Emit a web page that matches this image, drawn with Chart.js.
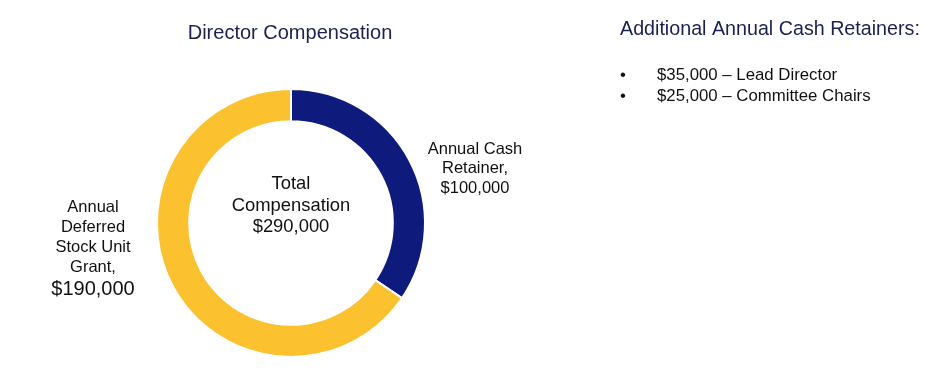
<!DOCTYPE html>
<html>
<head>
<meta charset="utf-8">
<script src="https://cdn.jsdelivr.net/npm/chart.js@4.4.1/dist/chart.umd.min.js"></script>
<style>
  html, body { margin: 0; padding: 0; background: #fff; }
  #wrap { width: 936px; height: 370px; position: relative; }
</style>
</head>
<body>
<div id="wrap"><canvas id="graf_comp"></canvas></div>
<script>
// dados
const categorias = ['Annual Cash Retainer', 'Annual Deferred Stock Unit Grant']
const valores = [100000, 190000]
const rotulos_linhas = [['Annual Cash', 'Retainer,'], ['Annual', 'Deferred', 'Stock Unit', 'Grant,']]
const cores = ['#0f1a7d', '#fbc12f']
const titulo = 'Director Compensation'
const retentores_titulo = 'Additional Annual Cash Retainers:'
const retentores_valores = [35000, 25000]
const retentores_cargos = ['Lead Director', 'Committee Chairs']

const fmt = v => '$' + v.toLocaleString('en-US')
const FONTE = '"Liberation Sans", Arial, sans-serif'

const textos = {
  id: 'textos',
  afterDraw(chart) {
    const ctx = chart.ctx
    const arc = chart.getDatasetMeta(0).data[0]
    const cx = arc.x, cy = arc.y, r = arc.outerRadius
    ctx.save()
    ctx.textAlign = 'center'
    ctx.textBaseline = 'middle'

    // titulo
    ctx.fillStyle = '#1b2150'
    ctx.font = '20px ' + FONTE
    ctx.fillText(titulo, 290, 33)

    // centro
    const total = valores.reduce((a, b) => a + b, 0)
    ctx.fillStyle = '#111'
    ctx.font = '18.4px ' + FONTE
    ;['Total', 'Compensation', fmt(total)].forEach((t, i) => {
      ctx.fillText(t, cx, cy - 39 + i * 21.5)
    })

    // rotulo direita (cash retainer)
    ctx.font = '16.5px ' + FONTE
    const dir = rotulos_linhas[0].concat([fmt(valores[0])])
    dir.forEach((t, i) => ctx.fillText(t, cx + r + 50, cy - 74 + i * 19.7))

    // rotulo esquerda (stock unit)
    const esq = rotulos_linhas[1]
    esq.forEach((t, i) => ctx.fillText(t, cx - r - 64, cy - 16 + i * 20))
    ctx.font = '20px ' + FONTE
    ctx.fillText(fmt(valores[1]), cx - r - 64, cy + 66)

    // retentores adicionais
    ctx.textAlign = 'left'
    ctx.fillStyle = '#1b2150'
    ctx.font = '19.7px ' + FONTE
    ctx.fillText(retentores_titulo, 620, 30)
    ctx.fillStyle = '#111'
    ctx.font = '16.8px ' + FONTE
    retentores_valores.forEach((v, i) => {
      const y = 75 + i * 21
      ctx.fillText('\u2022', 620, y)
      ctx.fillText(fmt(v) + ' \u2013 ' + retentores_cargos[i], 657, y)
    })
    ctx.restore()
  }
}

let graf_comp = new Chart(document.getElementById('graf_comp'), {
  type: 'doughnut',
  data: {
    labels: categorias,
    datasets: [{
      data: valores,
      backgroundColor: cores,
      borderColor: '#ffffff',
      borderWidth: 2,
      hoverOffset: 0
    }]
  },
  options: {
    responsive: true,
    maintainAspectRatio: false,
    animation: false,
    cutout: '76%',
    layout: { padding: { left: 155, right: 509, top: 88, bottom: 12 } },
    plugins: { legend: { display: false }, tooltip: { enabled: false } }
  },
  plugins: [textos]
});
</script>
</body>
</html>
